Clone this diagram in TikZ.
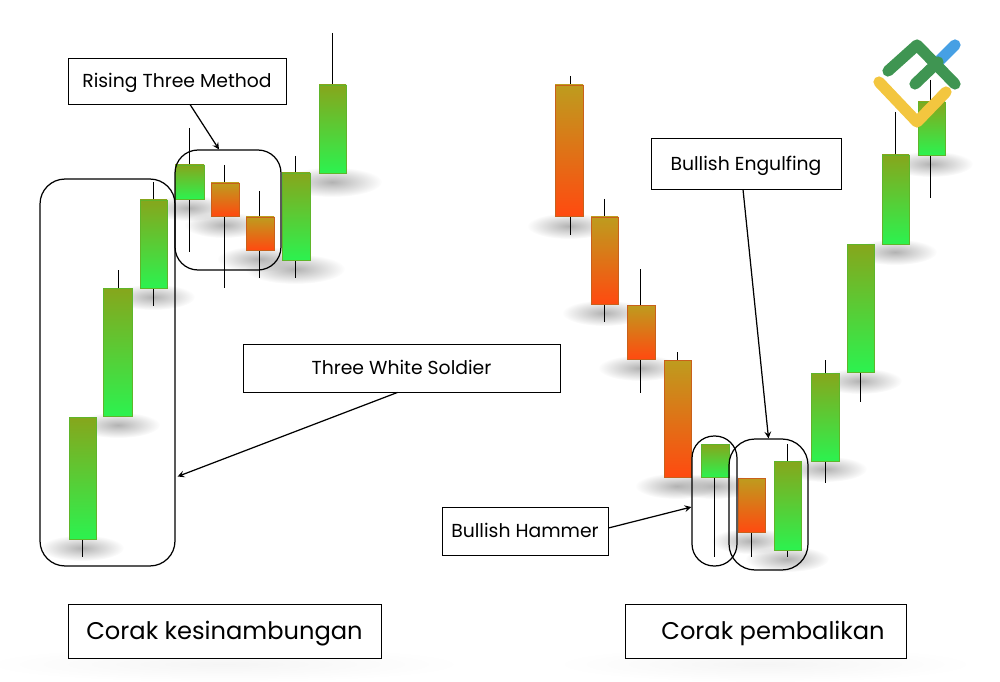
\documentclass[tikz,border=0pt]{standalone}
\usepackage{xcolor}
\usepackage{fontspec}
\setmainfont{Poppins}
\usetikzlibrary{calc,fadings}

\definecolor{bulltop}{HTML}{86A61C}
\definecolor{bullbot}{HTML}{2CF24F}
\definecolor{bulledge}{HTML}{5FB52A}
\definecolor{beartop}{HTML}{BE9C1E}
\definecolor{bearbot}{HTML}{FF4A10}
\definecolor{bearedge}{HTML}{C9601A}
\definecolor{logogreen}{HTML}{3F9552}
\definecolor{logoblue}{HTML}{46A0E4}
\definecolor{logoyellow}{HTML}{F3C63F}

\tikzfading[name=softblot, inner color=transparent!0, outer color=transparent!100]

\tikzset{
    bull/.style={draw=bulledge, line width=0.3pt, top color=bulltop, bottom color=bullbot},
    bear/.style={draw=bearedge, line width=0.3pt, top color=beartop, bottom color=bearbot},
    wick/.style={black, line width=0.55pt},
    blur/.style={fill=black!30, path fading=softblot},
    softblur/.style={fill=black!4, path fading=softblot},
    label/.style={draw=black, fill=white, line width=0.5pt, inner sep=0pt, text height=9.5pt, text depth=2pt, font=\fontsize{10.7pt}{12pt}\selectfont},
    title/.style={label, text height=12.6pt, text depth=3pt, font=\fontsize{13.75pt}{17pt}\selectfont},
    group/.style={draw=black, line width=0.7pt, inner sep=0pt},
    pointer/.style={-stealth, black, line width=0.7pt},
    logoline/.style={line width=6.4pt, line cap=round, line join=round},
}

\begin{document}
\begin{tikzpicture}[x=0.02cm,y=-0.02cm]
                \useasboundingbox (0,0) rectangle (1000,682);

                % shadows
                \fill[softblur] (224,664) ellipse (240 and 18);
                \fill[softblur] (765,664) ellipse (210 and 18);
                \fill[blur] (82,548) ellipse (42 and 13);
                \fill[blur] (118,425) ellipse (42 and 13);
                \fill[blur] (153,297) ellipse (42 and 13);
                \fill[blur] (189,208) ellipse (40 and 13);
                \fill[blur] (224,225) ellipse (40 and 13);
                \fill[blur] (259,259) ellipse (42 and 13);
                \fill[blur] (295,269) ellipse (50 and 15);
                \fill[blur] (332,182) ellipse (50 and 15);
                \fill[blur] (569,226) ellipse (42 and 13);
                \fill[blur] (604,313) ellipse (42 and 13);
                \fill[blur] (640,368) ellipse (42 and 13);
                \fill[blur] (677,486) ellipse (42 and 13);
                \fill[blur] (714,486) ellipse (42 and 13);
                \fill[blur] (751,541) ellipse (40 and 13);
                \fill[blur] (787,559) ellipse (42 and 13);
                \fill[blur] (825,469) ellipse (42 and 13);
                \fill[blur] (860,381) ellipse (42 and 13);
                \fill[blur] (895,252) ellipse (42 and 13);
                \fill[blur] (931,164) ellipse (42 and 13);

                % wicks
                \draw[wick] (82,539) -- (82,557);
                \draw[wick] (118,270) -- (118,288);
                \draw[wick] (153,182) -- (153,306);
                \draw[wick] (189,128) -- (189,252);
                \draw[wick] (224,165) -- (224,288);
                \draw[wick] (259,191) -- (259,278);
                \draw[wick] (295,156) -- (295,278);
                \draw[wick] (332,33) -- (332,85);
                \draw[wick] (570,76) -- (570,235);
                \draw[wick] (604,199) -- (604,322);
                \draw[wick] (640,269) -- (640,393);
                \draw[wick] (677,352) -- (677,360);
                \draw[wick] (714,477) -- (714,557);
                \draw[wick] (751,532) -- (751,557);
                \draw[wick] (787,444) -- (787,557);
                \draw[wick] (825,360) -- (825,483);
                \draw[wick] (860,372) -- (860,402);
                \draw[wick] (895,112) -- (895,155);
                \draw[wick] (930,80) -- (930,198);

                % candles
                \filldraw[bull] (69,417) rectangle (96,539);
                \filldraw[bull] (103,288) rectangle (132,416);
                \filldraw[bull] (140,200) rectangle (167,288);
                \filldraw[bull] (175,165) rectangle (204,199);
                \filldraw[bear] (211,183) rectangle (239,216);
                \filldraw[bear] (246,217) rectangle (274,250);
                \filldraw[bull] (282,173) rectangle (310,260);
                \filldraw[bull] (319,85) rectangle (346,173);
                \filldraw[bear] (555,85) rectangle (583,216);
                \filldraw[bear] (591,217) rectangle (618,304);
                \filldraw[bear] (627,305) rectangle (655,359);
                \filldraw[bear] (664,360) rectangle (691,477);
                \filldraw[bull] (701,444) rectangle (729,477);
                \filldraw[bear] (738,478) rectangle (765,532);
                \filldraw[bull] (774,461) rectangle (801,550);
                \filldraw[bull] (811,373) rectangle (839,461);
                \filldraw[bull] (847,244) rectangle (874,372);
                \filldraw[bull] (882,155) rectangle (909,244);
                \filldraw[bull] (918,102) rectangle (945,155);

                % groups
                \node[group, rounded corners=0.5cm, minimum width=2.7cm, minimum height=7.74cm] (soldiergroup) at (107.5,372.5) {};
                \node[group, rounded corners=0.46cm, minimum width=2.12cm, minimum height=2.4cm] (methodgroup) at (228,210) {};
                \node[group, rounded corners=0.44cm, minimum width=0.9cm, minimum height=2.6cm] (hammergroup) at (714.5,501) {};
                \node[group, rounded corners=0.52cm, minimum width=1.58cm, minimum height=2.62cm] (engulfgroup) at (768.5,504.5) {};

                % labels
                \node[label, minimum width=4.36cm, minimum height=0.92cm] (method) at (177,81) {Rising Three Method};
                \node[label, minimum width=6.34cm, minimum height=0.96cm] (soldier) at (401.5,368) {Three White Soldier\hspace{0.32cm}};
                \node[label, minimum width=3.8cm, minimum height=1.02cm] (engulf) at (746,163.5) {Bullish Engulfing};
                \node[label, minimum width=3.32cm, minimum height=0.96cm] (hammer) at (525,531) {Bullish Hammer};
                \node[title, minimum width=6.26cm, minimum height=1.08cm] (continuation) at (224.5,631) {Corak kesinambungan};
                \node[title, minimum width=5.62cm, minimum height=1.08cm] (reversal) at (765.5,631) {\hspace{0.3cm}Corak pembalikan};

                % pointers
                \draw[pointer] ($(method.south)+(13,0)$) -- ($(methodgroup.north)+(-9,0)$);
                \draw[pointer] ($(soldier.south)+(-4,0)$) -- ($(soldiergroup.east)+(2,104)$);
                \draw[pointer] ($(engulf.south)+(-3,0)$) -- (engulfgroup.north);
                \draw[pointer] ($(hammer.east)+(0,-3)$) -- ($(hammergroup.west)+(0,6)$);

                % logo
                \draw[logoline, logoblue] (938,62) -- (955,45);
                \draw[logoline, logogreen] (888,71) -- (917,45) -- (955,84);
                \draw[logoline, logogreen] (915,84) -- (938,62);
                \draw[logoline, logoyellow] (879,82) -- (917,122) -- (946,92);
            \end{tikzpicture}
\end{document}
